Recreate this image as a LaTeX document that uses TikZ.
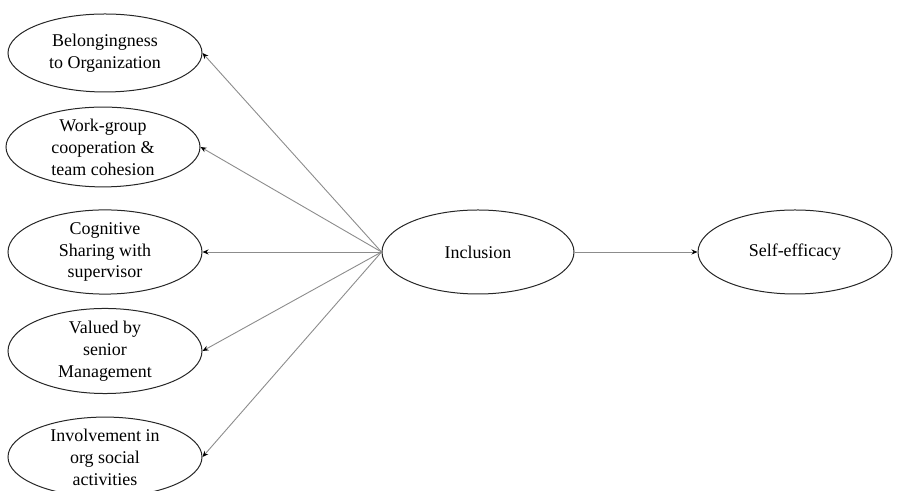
\documentclass[tikz,border=0pt]{standalone}
\usepackage{fontspec}
\setmainfont{Liberation Serif}
\usepackage{tikz}
\usetikzlibrary{shapes.geometric, arrows.meta}

\tikzset{
  construct/.style={ellipse, draw=black!85, line width=1bp, inner sep=0pt,
    minimum width=194bp, minimum height=78bp, align=center,
    font=\fontsize{18}{22}\selectfont},
  link/.style={draw=black!45, line width=0.9bp,
    -{Stealth[black, length=6bp, width=5bp]}}
}

\begin{document}
\begin{tikzpicture}[x=1bp, y=1bp]
\useasboundingbox (0,0) rectangle (900,491);
\node[construct] (B) at (105,438) {Belongingness\\to Organization};
\node[construct] (W) at (103,344) {Work-group\\cooperation \&\\team cohesion};
\node[construct] (C) at (105,239) {Cognitive\\Sharing with\\supervisor};
\node[construct] (V) at (105,140) {Valued by\\senior\\Management};
\node[construct] (O) at (105,34) {Involvement in\\org social\\activities};
\node[construct, minimum width=192bp, minimum height=84bp] (I) at (478,239) {Inclusion};
\node[construct, minimum height=84bp] (S) at (795,239) {Self-efficacy};
\draw[link] (I.west) -- (B.east);
\draw[link] (I.west) -- (W.east);
\draw[link] (I.west) -- (C.east);
\draw[link] (I.west) -- (V.east);
\draw[link] (I.west) -- (O.east);
\draw[link] (I) -- (S);
\end{tikzpicture}
\end{document}
